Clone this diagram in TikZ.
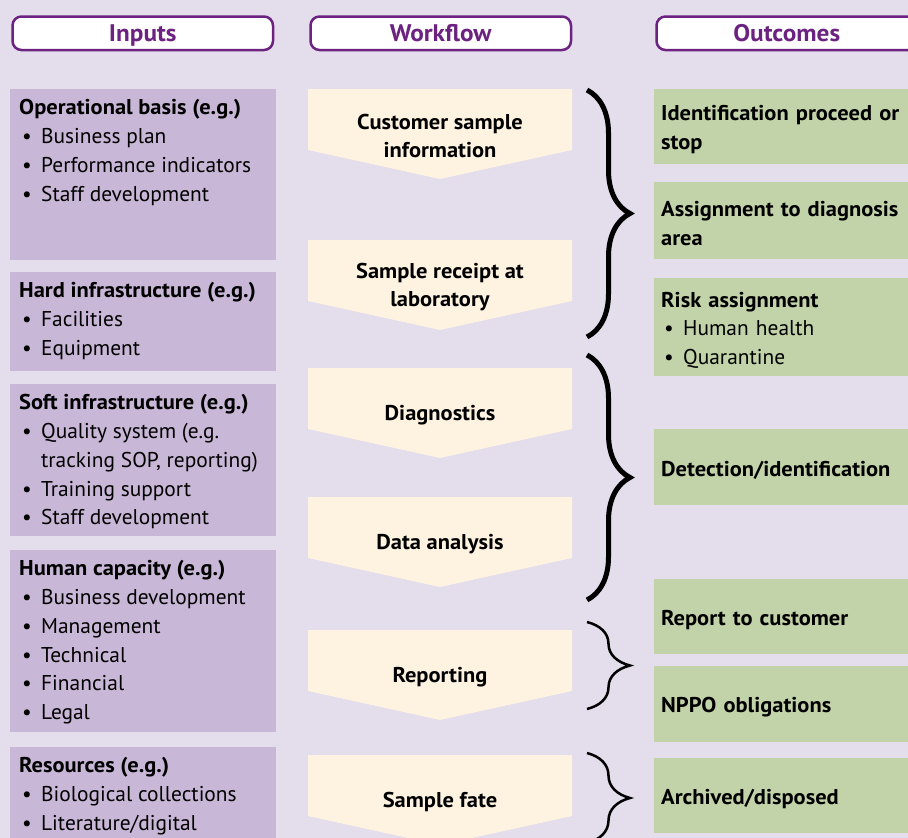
\documentclass[tikz,border=0pt]{standalone}
\usepackage{fontspec}
\setmainfont{PT Sans}[BoldFeatures={FakeStretch=1.05}]
\usetikzlibrary{
    positioning,
    decorations.pathreplacing
    }

\definecolor{lilac}{RGB}{228,221,236}
\definecolor{inputfill}{RGB}{201,183,215}
\definecolor{creamfill}{RGB}{254,242,225}
\definecolor{outfill}{RGB}{194,211,169}
\definecolor{plum}{RGB}{108,34,128}

\newcommand{\itm}{\makebox[22pt][l]{\hspace{3pt}\textbullet}}
\newcommand{\tallstrut}{\rule{0pt}{21pt}}

\begin{document}
\begin{tikzpicture}[x=1pt, y=-1pt, font=\fontsize{21.4}{28.7}\selectfont]
\tikzset{heading/.style =
        {
            draw=plum,
            line width=2.5pt,
            rounded corners=9pt,
            fill=white,
            text=plum,
            font=\fontsize{24}{28}\selectfont\bfseries,
            minimum width=260.5pt,
            minimum height=33.5pt,
            text height=16.8pt,
            text depth=0pt,
            inner sep=0pt,
            anchor=north west
        }
}

\tikzset{inbox/.style =
        {
            fill=inputfill,
            minimum width=266pt,
            inner sep=0pt,
            anchor=north west
        }
}

\tikzset{listing/.style =
        {
            align=left,
            inner xsep=9pt,
            inner ysep=10.5pt,
            anchor=north west
        }
}

\tikzset{outbox/.style =
        {
            fill=outfill,
            minimum width=266pt,
            text width=252pt,
            inner xsep=7pt,
            align=left,
            font=\fontsize{21.4}{28.7}\selectfont\bfseries,
            anchor=north west
        }
}

\tikzset{chevron/.pic = {
            \fill [creamfill] (0,0) -- (264,0) -- (264,61) -- (132,90) -- (0,61) -- cycle;
        }
}

\tikzset{steptext/.style =
        {
            align=center,
            font=\fontsize{21.4}{28.7}\selectfont\bfseries
        }
}

\tikzset{bracket/.style =
        {
            decorate,
            decoration={brace, amplitude=43pt},
            line width=#1
        }
}
		\useasboundingbox (0,0) rectangle (908,838);
		\clip (0,0) rectangle (908,838);
		\fill [lilac] (0,0) rectangle (908,838);

		% column headings
		\foreach \name / \x / \txt in
			{inputs/10/Inputs,
				workflow/308/Workflow,
				outcomes/654/Outcomes}
		\node[heading] (\name) at (\x+1.25,15.25) {\txt};

		% inputs
		\node[inbox, minimum height=171pt] (basis) at (10,89) {};
		\node[listing] (basis-text) at (basis.north west)
			{\textbf{Operational basis (e.g.)}\\
			\itm Business plan\\
			\itm Performance indicators\\
			\itm Staff development};

		\node[inbox, minimum height=99pt] (hard) at (10,272) {};
		\node[listing] (hard-text) at (hard.north west)
			{\textbf{Hard infrastructure (e.g.)}\\
			\itm Facilities\\
			\itm Equipment};

		\node[inbox, minimum height=152pt] (soft) at (10,384) {};
		\node[listing] (soft-text) at (soft.north west)
			{\textbf{Soft infrastructure (e.g.)}\\
			\itm Quality system (e.g.\\
			\hspace*{22pt}tracking SOP, reporting)\\
			\itm Training support\\
			\itm Staff development};

		\node[inbox, minimum height=182pt] (human) at (10,550) {};
		\node[listing] (human-text) at (human.north west)
			{\textbf{Human capacity (e.g.)}\\
			\itm Business development\\
			\itm Management\\
			\itm Technical\\
			\itm Financial\\
			\itm Legal};

		\node[inbox, minimum height=110pt] (resources) at (10,747) {};
		\node[listing] (resources-text) at (resources.north west)
			{\textbf{Resources (e.g.)}\\
			\itm Biological collections\\
			\itm Literature/digital};

		% workflow
		\foreach \name / \ytop / \txt in
			{customer/89/{Customer sample\\information},
				receipt/240/{Sample receipt at\\laboratory},
				diagnostics/368/Diagnostics,
				analysis/497/Data analysis,
				reporting/630/Reporting,
				fate/755/Sample fate}
			{
				\pic at (308,\ytop) {chevron};
				\node[steptext] (\name) at (440,\ytop+47) {\txt};
			}

		% outcomes
		\foreach \name / \ytop / \h / \txt in
			{proceed/89/75/{Identification proceed or\\stop},
				assign/182/77/{Assignment to diagnosis\\area},
				risk/278/98/{Risk assignment\\\mdseries\itm Human health\\\mdseries\itm Quarantine},
				detect/429/76/{Detection/identification},
				report/579/75/{Report to customer},
				nppo/666/76/{NPPO obligations},
				archive/758/75/{Archived/disposed}}
		\node[outbox, minimum height=\h pt] (\name) at (654,\ytop) {\tallstrut\txt};

		% brackets
		\foreach \start / \finish / \w in
			{90/337/5pt,
				355/600/5pt,
				622/709/2.5pt,
				753/843/2.5pt}
		\draw [bracket=\w] (587,\start) -- (587,\finish);

	\end{tikzpicture}
\end{document}
